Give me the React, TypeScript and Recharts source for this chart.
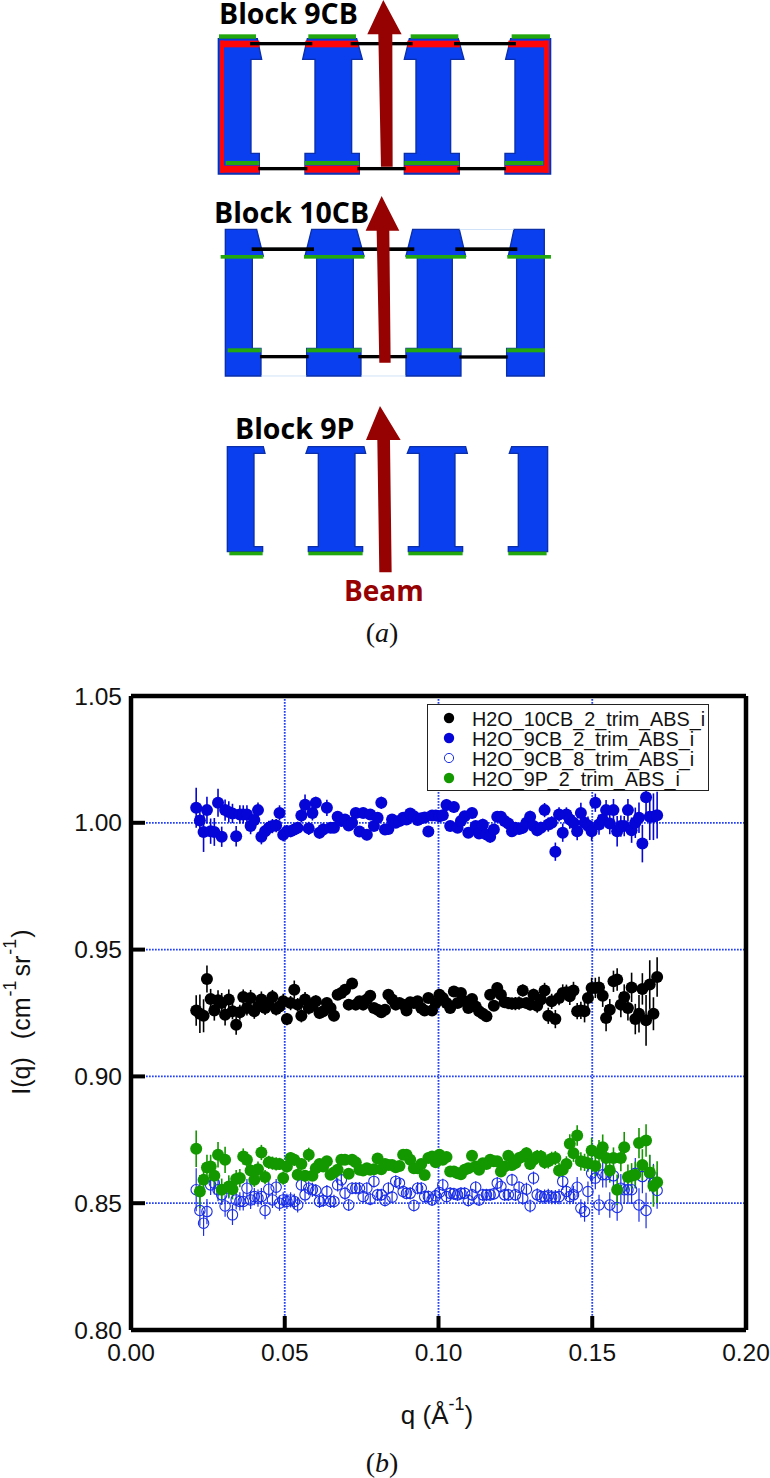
import React from "react";
import {
  ScatterChart,
  Scatter,
  XAxis,
  YAxis,
  CartesianGrid,
  ErrorBar,
  Legend,
} from "recharts";

const qValues = [
  0.0212, 0.0224, 0.0236, 0.0247, 0.0259, 0.0271, 0.0283, 0.0295, 0.0306, 0.0318,
  0.033, 0.0342, 0.0354, 0.0365, 0.0377, 0.0389, 0.0401, 0.0413, 0.0424, 0.0436,
  0.0448, 0.046, 0.0472, 0.0483, 0.0495, 0.0507, 0.0519, 0.0531, 0.0542, 0.0554,
  0.0566, 0.0578, 0.059, 0.0601, 0.0613, 0.0625, 0.0637, 0.0649, 0.066, 0.0672,
  0.0684, 0.0696, 0.0708, 0.0719, 0.0731, 0.0743, 0.0755, 0.0767, 0.0778, 0.079,
  0.0802, 0.0814, 0.0826, 0.0837, 0.0849, 0.0861, 0.0873, 0.0885, 0.0896, 0.0908,
  0.092, 0.0932, 0.0944, 0.0955, 0.0967, 0.0979, 0.0991, 0.1003, 0.1014, 0.1026,
  0.1038, 0.105, 0.1062, 0.1073, 0.1085, 0.1097, 0.1109, 0.1121, 0.1132, 0.1144,
  0.1156, 0.1168, 0.118, 0.1191, 0.1203, 0.1215, 0.1227, 0.1239, 0.125, 0.1262,
  0.1274, 0.1286, 0.1298, 0.1309, 0.1321, 0.1333, 0.1345, 0.1357, 0.1368, 0.138,
  0.1392, 0.1404, 0.1416, 0.1427, 0.1439, 0.1451, 0.1463, 0.1475, 0.1486, 0.1498,
  0.151, 0.1522, 0.1534, 0.1545, 0.1557, 0.1569, 0.1581, 0.1593, 0.1604, 0.1616,
  0.1628, 0.164, 0.1652, 0.1663, 0.1675, 0.1687, 0.1699, 0.1711,
];

const black10cb = [
  0.926, 0.9247, 0.9239, 0.9384, 0.9305, 0.926, 0.93, 0.9289, 0.9243, 0.9303,
  0.9257, 0.9204, 0.9253, 0.9313, 0.927, 0.9309, 0.9257, 0.9276, 0.9303, 0.927,
  0.9283, 0.9313, 0.9266, 0.9276, 0.9296, 0.9226, 0.9289, 0.9342, 0.9283, 0.9239,
  0.9303, 0.927, 0.9279, 0.9296, 0.925, 0.9257, 0.9289, 0.927, 0.9239, 0.9322,
  0.9329, 0.9342, 0.9283, 0.9366, 0.9283, 0.9296, 0.9283, 0.9303, 0.9318, 0.927,
  0.9263, 0.9253, 0.9263, 0.9322, 0.9303, 0.9283, 0.9289, 0.9283, 0.926, 0.9292,
  0.9289, 0.9296, 0.927, 0.926, 0.9309, 0.926, 0.9289, 0.9322, 0.9309, 0.9289,
  0.927, 0.9335, 0.9289, 0.9329, 0.9296, 0.927, 0.9305, 0.9276, 0.9257, 0.9247,
  0.9237, 0.9322, 0.9279, 0.9349, 0.9322, 0.9292, 0.9289, 0.9287, 0.9287, 0.9289,
  0.9339, 0.9289, 0.9283, 0.9322, 0.9279, 0.9303, 0.9339, 0.9239, 0.9296, 0.9226,
  0.9309, 0.9329, 0.9332, 0.9316, 0.9339, 0.9257, 0.926, 0.9257, 0.9309, 0.9349,
  0.9349, 0.9351, 0.9318, 0.923, 0.9263, 0.9375, 0.9382, 0.9283, 0.9313, 0.927,
  0.9351, 0.9226, 0.9247, 0.9345, 0.9221, 0.9362, 0.9247, 0.9392,
];
const black10cbErr = [
  0.006, 0.0076, 0.0065, 0.0053, 0.004, 0.004, 0.004, 0.004, 0.0042, 0.004,
  0.0032, 0.004, 0.003, 0.003, 0.003, 0.0032, 0.003, 0.003, 0.0032, 0.0028,
  0.0028, 0.0028, 0.0026, 0.0028, 0.003, 0.0024, 0.0028, 0.0036, 0.0026, 0.0026,
  0.003, 0.0026, 0.0026, 0.0024, 0.0024, 0.0024, 0.0022, 0.002, 0.0022, 0.002,
  0.002, 0.002, 0.002, 0.002, 0.002, 0.002, 0.002, 0.0018, 0.0018, 0.0018,
  0.0018, 0.0018, 0.0018, 0.0018, 0.0018, 0.0018, 0.0018, 0.0018, 0.0018, 0.0018,
  0.0018, 0.0018, 0.0018, 0.0018, 0.0018, 0.0018, 0.0018, 0.0018, 0.0018, 0.0018,
  0.0018, 0.0018, 0.0018, 0.0018, 0.0018, 0.0018, 0.0018, 0.0018, 0.0018, 0.0018,
  0.0018, 0.0018, 0.0018, 0.0022, 0.002, 0.002, 0.0024, 0.0024, 0.0026, 0.0026,
  0.0024, 0.002, 0.0022, 0.0024, 0.0028, 0.0024, 0.003, 0.0032, 0.003, 0.0036,
  0.0028, 0.0034, 0.003, 0.0034, 0.0034, 0.0032, 0.0034, 0.0044, 0.0036, 0.004,
  0.004, 0.0042, 0.0044, 0.0052, 0.0042, 0.0042, 0.0044, 0.005, 0.005, 0.005,
  0.0058, 0.006, 0.0074, 0.0062, 0.01, 0.0096, 0.0065, 0.0078,
];

const blue9cb2 = [
  1.0059, 1.0009, 0.9964, 1.005, 0.9967, 0.9964, 1.0079, 0.9945, 1.005, 1.0043,
  1.0037, 0.9947, 1.0033, 1.0033, 1.0033, 0.9987, 1.0011, 1.005, 0.9945, 0.9967,
  0.998, 0.9987, 0.9989, 1.0039, 0.9953, 0.9967, 0.9967, 0.9974, 0.998, 1.0029,
  1.0071, 0.9978, 1.0039, 1.0079, 0.9961, 0.9974, 1.0059, 0.998, 0.998, 1.0024,
  1.0007, 1.0013, 0.9989, 1.0, 1.0039, 0.9966, 1.0039, 0.9953, 1.0033, 0.9987,
  1.002, 1.0079, 0.9974, 0.9976, 1.0013, 1.0, 1.0007, 1.002, 1.0013, 1.0037,
  1.0026, 1.0011, 1.0018, 1.0021, 0.9966, 1.0029, 1.0029, 1.0026, 1.003, 1.007,
  0.9987, 1.0062, 0.998, 1.0007, 1.0026, 0.9961, 1.0039, 0.9987, 0.9958, 0.9992,
  0.9954, 0.9945, 0.9974, 1.0024, 1.0024, 1.0007, 0.9997, 0.9967, 0.998, 0.9976,
  0.998, 1.0, 1.0024, 0.9987, 0.9971, 0.998, 1.005, 0.9993, 1.0, 0.9886,
  1.0033, 0.9961, 1.0033, 1.0013, 1.0, 0.9967, 1.0039, 1.0, 0.9989, 0.9967,
  1.0079, 0.9993, 1.0013, 1.005, 0.9997, 1.005, 0.9967, 0.9987, 0.9987, 1.005,
  0.9971, 1.0, 1.002, 0.9918, 1.0101, 1.0024, 1.0024, 1.003,
];
const blue9cb2Err = [
  0.0079, 0.0055, 0.0079, 0.0053, 0.005, 0.0055, 0.0055, 0.004, 0.0042, 0.0042,
  0.0038, 0.004, 0.0036, 0.0036, 0.0036, 0.0032, 0.003, 0.003, 0.003, 0.0028,
  0.0028, 0.0028, 0.0026, 0.003, 0.0026, 0.0024, 0.0024, 0.0024, 0.0024, 0.0028,
  0.0041, 0.0026, 0.003, 0.0024, 0.0024, 0.0024, 0.0032, 0.002, 0.002, 0.0022,
  0.002, 0.002, 0.002, 0.0018, 0.002, 0.002, 0.002, 0.0022, 0.002, 0.0018,
  0.0018, 0.0024, 0.0018, 0.0018, 0.0018, 0.0018, 0.0018, 0.0018, 0.0018, 0.0018,
  0.0018, 0.0018, 0.0018, 0.0018, 0.0018, 0.002, 0.0018, 0.0018, 0.0018, 0.0024,
  0.002, 0.0022, 0.002, 0.002, 0.0018, 0.0018, 0.002, 0.002, 0.002, 0.0024,
  0.002, 0.0024, 0.002, 0.002, 0.0022, 0.002, 0.002, 0.002, 0.002, 0.002,
  0.0024, 0.0024, 0.0024, 0.0024, 0.0024, 0.0024, 0.0028, 0.0028, 0.0026, 0.0036,
  0.0028, 0.0036, 0.0028, 0.0036, 0.003, 0.0036, 0.004, 0.003, 0.0036, 0.0038,
  0.0036, 0.004, 0.0038, 0.004, 0.0042, 0.0044, 0.006, 0.0042, 0.004, 0.0044,
  0.005, 0.006, 0.006, 0.0074, 0.008, 0.0092, 0.0092, 0.0092,
];

const open9cb8 = [
  0.8553, 0.8471, 0.8421, 0.8467, 0.8572, 0.8579, 0.8553, 0.8533, 0.8489, 0.8559,
  0.8454, 0.8513, 0.8507, 0.8507, 0.8559, 0.8513, 0.8526, 0.852, 0.8526, 0.8471,
  0.8555, 0.8513, 0.8563, 0.85, 0.8513, 0.8507, 0.8513, 0.8507, 0.8493, 0.8572,
  0.8533, 0.8559, 0.8553, 0.855, 0.8507, 0.8511, 0.8546, 0.8507, 0.8507, 0.8572,
  0.8592, 0.8539, 0.8493, 0.8559, 0.8559, 0.8559, 0.8526, 0.8559, 0.8516, 0.8586,
  0.8533, 0.8533, 0.8511, 0.8559, 0.8524, 0.8586, 0.8579, 0.8546, 0.8539, 0.8539,
  0.8491, 0.8559, 0.8559, 0.8526, 0.8526, 0.8513, 0.8529, 0.8542, 0.8572, 0.8526,
  0.8539, 0.8537, 0.8533, 0.8539, 0.8539, 0.8511, 0.8533, 0.8563, 0.8513, 0.8533,
  0.8533, 0.8533, 0.8537, 0.8579, 0.8566, 0.8533, 0.8533, 0.8592, 0.8533, 0.8563,
  0.852, 0.8555, 0.8489, 0.8599, 0.8533, 0.8526, 0.8526, 0.8529, 0.8524, 0.8524,
  0.8526, 0.8586, 0.8546, 0.8526, 0.8533, 0.8563, 0.848, 0.8467, 0.8546, 0.8618,
  0.8599, 0.8493, 0.8612, 0.8612, 0.8493, 0.8608, 0.8483, 0.8559, 0.8553, 0.8553,
  0.8553, 0.8618, 0.8493, 0.8605, 0.8471, 0.8618, 0.8579, 0.855,
];
const open9cb8Err = [
  0.0085, 0.006, 0.005, 0.005, 0.004, 0.0045, 0.0045, 0.004, 0.0042, 0.004,
  0.004, 0.0038, 0.0036, 0.0036, 0.0036, 0.0036, 0.0034, 0.0034, 0.0034, 0.0034,
  0.0032, 0.0032, 0.0032, 0.003, 0.003, 0.003, 0.003, 0.003, 0.003, 0.0028,
  0.0028, 0.0028, 0.0028, 0.0026, 0.0026, 0.0026, 0.0026, 0.0026, 0.0026, 0.0026,
  0.0026, 0.0026, 0.0024, 0.0024, 0.0024, 0.0024, 0.0024, 0.0024, 0.0024, 0.0024,
  0.0024, 0.0024, 0.0024, 0.0024, 0.0024, 0.0024, 0.0024, 0.0024, 0.0024, 0.0024,
  0.0024, 0.0024, 0.0024, 0.0024, 0.0024, 0.0024, 0.0024, 0.0024, 0.0024, 0.0024,
  0.0024, 0.0024, 0.0024, 0.0024, 0.0024, 0.0024, 0.0024, 0.0024, 0.0024, 0.0024,
  0.0024, 0.0024, 0.0024, 0.0024, 0.0024, 0.0024, 0.0024, 0.0024, 0.0024, 0.0024,
  0.0026, 0.0026, 0.0026, 0.0026, 0.0026, 0.0026, 0.0028, 0.0028, 0.0028, 0.0028,
  0.003, 0.0034, 0.003, 0.003, 0.0036, 0.004, 0.0036, 0.004, 0.004, 0.0044,
  0.0044, 0.004, 0.005, 0.005, 0.005, 0.005, 0.0052, 0.0056, 0.0056, 0.0056,
  0.0056, 0.006, 0.0066, 0.0066, 0.007, 0.0072, 0.0076, 0.0072,
];

const green9p2 = [
  0.8715, 0.8546, 0.8592, 0.8641, 0.8645, 0.8608, 0.8691, 0.8553, 0.8671, 0.8566,
  0.8555, 0.8595, 0.8599, 0.8684, 0.8671, 0.8629, 0.8592, 0.8634, 0.87, 0.8603,
  0.8661, 0.8658, 0.8655, 0.8655, 0.8599, 0.8645, 0.8678, 0.8671, 0.8612, 0.8655,
  0.8608, 0.8691, 0.8608, 0.8638, 0.8655, 0.8645, 0.8665, 0.8612, 0.8621, 0.8632,
  0.8671, 0.8671, 0.8616, 0.8671, 0.8661, 0.8632, 0.8629, 0.8638, 0.8632, 0.8634,
  0.8676, 0.8634, 0.8655, 0.8651, 0.8651, 0.8642, 0.8647, 0.8691, 0.8691, 0.8671,
  0.8638, 0.8638, 0.8655, 0.8611, 0.8678, 0.8684, 0.8661, 0.8691, 0.8671, 0.8682,
  0.8625, 0.8625, 0.8618, 0.8614, 0.8632, 0.8638, 0.8687, 0.8645, 0.8632, 0.8658,
  0.8655, 0.8671, 0.8665, 0.8665, 0.8625, 0.8645, 0.8687, 0.8651, 0.8658, 0.8678,
  0.8684, 0.8697, 0.8655, 0.8671, 0.8684, 0.8684, 0.8661, 0.8665, 0.8675, 0.8678,
  0.8629, 0.8632, 0.8655, 0.8734, 0.8697, 0.8767, 0.8665, 0.8661, 0.8658, 0.8708,
  0.8647, 0.8697, 0.8721, 0.8678, 0.8629, 0.8678, 0.8553, 0.8678, 0.8721, 0.8603,
  0.8608, 0.8612, 0.8737, 0.8651, 0.8747, 0.8621, 0.8568, 0.8583,
];
const green9p2Err = [
  0.0072, 0.0065, 0.0055, 0.005, 0.0046, 0.004, 0.005, 0.0044, 0.0052, 0.0044,
  0.004, 0.0036, 0.0036, 0.0032, 0.0032, 0.0032, 0.0028, 0.003, 0.003, 0.0028,
  0.0026, 0.0026, 0.0026, 0.0024, 0.0026, 0.0024, 0.0024, 0.0024, 0.0024, 0.0022,
  0.0022, 0.0028, 0.002, 0.002, 0.002, 0.002, 0.002, 0.002, 0.002, 0.0018,
  0.0018, 0.0018, 0.0018, 0.0018, 0.0018, 0.0018, 0.0018, 0.0018, 0.0018, 0.0018,
  0.0018, 0.0018, 0.0018, 0.0018, 0.0018, 0.0018, 0.0018, 0.0018, 0.0018, 0.0018,
  0.0018, 0.0018, 0.0018, 0.0018, 0.0018, 0.0018, 0.0018, 0.0018, 0.0018, 0.0018,
  0.0018, 0.0018, 0.0018, 0.0018, 0.0018, 0.0018, 0.0018, 0.0018, 0.0018, 0.0018,
  0.0018, 0.0018, 0.0018, 0.002, 0.002, 0.002, 0.002, 0.002, 0.0022, 0.0022,
  0.0022, 0.0024, 0.0024, 0.0024, 0.0026, 0.0026, 0.0026, 0.0028, 0.0028, 0.0028,
  0.003, 0.003, 0.003, 0.0038, 0.0034, 0.004, 0.0036, 0.0034, 0.0034, 0.005,
  0.004, 0.0052, 0.005, 0.0042, 0.0048, 0.0042, 0.006, 0.0052, 0.006, 0.005,
  0.005, 0.0052, 0.006, 0.0062, 0.0064, 0.007, 0.0082, 0.0082,
];

const xTicks = [0, 0.05, 0.1, 0.15, 0.2];
const yTicks = [0.8, 0.85, 0.9, 0.95, 1.0, 1.05];

const toRows = (values: number[], errs: number[]) =>
  qValues.map((q, i) => ({ q, value: values[i], err: errs[i] }));

const series = [
  { name: "H2O_10CB_2_trim_ABS_i", rows: toRows(black10cb, black10cbErr), color: "#000000", open: false },
  { name: "H2O_9CB_2_trim_ABS_i", rows: toRows(blue9cb2, blue9cb2Err), color: "#0505d8", open: false },
  { name: "H2O_9CB_8_trim_ABS_i", rows: toRows(open9cb8, open9cb8Err), color: "#1a2ee6", open: true },
  { name: "H2O_9P_2_trim_ABS_i", rows: toRows(green9p2, green9p2Err), color: "#149800", open: false },
];

const BLUE = "#0a3ff0";
const BLUE_EDGE = "#0a2fa8";
const GREEN = "#22a80e";
const RED = "#ff0606";
const DARK_RED = "#960202";

type Rect = [number, number, number, number];

const box = ([x1, y1, x2, y2]: Rect, fill: string, i: number) => (
  <rect key={`${fill}-${i}`} x={x1} y={y1} width={x2 - x1} height={y2 - y1} fill={fill} />
);

// schematic coordinates are in 3x crop units, each group is scaled down
const block9cbPieces = [
  "55,116 172,116 185,178 153,178 153,460 178,460 178,522 55,522",
  "322,116 470,116 487,178 455,178 455,460 478,460 478,522 315,522 315,460 345,460 345,178 308,178",
  "628,116 775,116 792,178 752,178 752,460 778,460 778,522 613,522 613,460 648,460 648,178 613,178",
  "932,116 1052,116 1052,522 915,522 915,460 945,460 945,178 917,178",
];
const block9cbRed: Rect[] = [
  [60, 122, 178, 142], [60, 122, 72, 518], [60, 497, 178, 518],
  [316, 122, 475, 142], [315, 497, 478, 518],
  [622, 122, 780, 142], [613, 497, 778, 518],
  [925, 122, 1047, 142], [1032, 122, 1047, 518], [915, 497, 1047, 518],
];
const block9cbGreen: Rect[] = [
  [57, 103, 168, 116], [77, 483, 178, 495],
  [325, 103, 468, 116], [315, 483, 478, 495],
  [632, 103, 775, 116], [613, 483, 778, 495],
  [935, 103, 1050, 116], [915, 483, 1030, 495],
];
const block9cbBlack: Rect[] = [
  [150, 126, 337, 136], [452, 126, 638, 136], [762, 126, 948, 136],
  [175, 501, 322, 511], [472, 501, 617, 511], [772, 501, 918, 511],
];

const block10cbPieces = [
  "76,118 170,118 190,198 157,198 157,475 183,475 183,558 76,558",
  "335,118 470,118 492,198 460,198 460,475 483,475 483,558 320,558 320,475 350,475 350,198 315,198",
  "638,118 778,118 797,198 757,198 757,475 783,475 783,558 618,558 618,475 652,475 652,198 618,198",
  "942,118 1033,118 1033,558 920,558 920,475 950,475 950,198 925,198",
];
const block10cbGreen: Rect[] = [
  [62, 195, 190, 206], [312, 195, 493, 206], [617, 195, 798, 206], [922, 195, 1053, 206],
  [83, 475, 183, 487], [320, 475, 483, 487], [618, 475, 783, 487], [920, 475, 1035, 487],
];
const block10cbBlack: Rect[] = [
  [155, 172, 342, 183], [457, 172, 643, 183], [766, 172, 952, 183],
  [180, 495, 326, 505], [475, 495, 621, 505], [778, 496, 923, 506],
];
const block10cbFaint: Rect[] = [
  [183, 557, 320, 559], [483, 557, 618, 559], [778, 117, 942, 119],
];

const block9pPieces = [
  "82,170 190,170 195,190 162,190 162,470 188,470 188,485 82,485",
  "325,170 492,170 497,190 465,190 465,470 488,470 488,485 325,485 325,470 355,470 355,190 318,190",
  "630,170 797,170 802,190 765,190 765,470 788,470 788,485 625,485 625,470 658,470 658,190 622,190",
  "935,170 1043,170 1043,485 925,485 925,470 955,470 955,190 928,190",
];
const block9pGreen: Rect[] = [
  [88, 485, 188, 496], [325, 485, 488, 496], [625, 485, 788, 496], [925, 485, 1040, 496],
];

const labelFont = "'Open Sans', 'Noto Sans', sans-serif";

const Pieces = ({ points }: { points: string[] }) => (
  <>
    {points.map((p) => (
      <polygon key={p} points={p} fill={BLUE} stroke={BLUE_EDGE} strokeWidth={4} strokeLinejoin="miter" />
    ))}
  </>
);

const Schematic = () => (
  <svg width={770} height={660} style={{ position: "absolute", left: 0, top: 0 }}>
    <g transform="translate(200,0) scale(0.3333)">
      <Pieces points={block9cbPieces} />
      {block9cbRed.map((r, i) => box(r, RED, i))}
      {block9cbGreen.map((r, i) => box(r, GREEN, i))}
      {block9cbBlack.map((r, i) => box(r, "#000", i))}
      <polygon points="550,0 502,103 535,103 543,500 578,500 577,103 605,103" fill={DARK_RED} />
    </g>
    <text x={219} y={24} fontFamily={labelFont} fontWeight={700} fontSize={28.5} fill="#000">Block 9CB</text>

    <g transform="translate(200,190) scale(0.3333)">
      <Pieces points={block10cbPieces} />
      {block10cbFaint.map((r, i) => box(r, "#b8d4f4", i))}
      {block10cbGreen.map((r, i) => box(r, GREEN, i))}
      {block10cbBlack.map((r, i) => box(r, "#000", i))}
      <polygon points="545,18 497,122 530,122 538,518 572,518 568,122 598,122" fill={DARK_RED} />
    </g>
    <text x={214} y={223} fontFamily={labelFont} fontWeight={700} fontSize={28.5} fill="#000">Block 10CB</text>

    <g transform="translate(200,390) scale(0.3333)">
      <Pieces points={block9pPieces} />
      {block9pGreen.map((r, i) => box(r, GREEN, i))}
      <polygon points="540,48 498,150 532,150 538,547 575,547 570,150 602,150" fill={DARK_RED} />
    </g>
    <text x={235} y={439} fontFamily={labelFont} fontWeight={700} fontSize={28.5} fill="#000">Block 9P</text>
    <text x={344} y={601} fontFamily={labelFont} fontWeight={700} fontSize={28} fill={DARK_RED}>Beam</text>

    <text x={382} y={642} textAnchor="middle" fontFamily="'Liberation Serif', serif" fontSize={28} fill="#111">
      (<tspan fontStyle="italic">a</tspan>)
    </text>
  </svg>
);

const plotFont = "'Liberation Sans', Arial, sans-serif";

const renderMarker = (color: string, open: boolean) => (props: any) => (
  <circle
    cx={props.cx}
    cy={props.cy}
    r={open ? 5.2 : 6}
    fill={open ? "none" : color}
    stroke={open ? color : "none"}
    strokeWidth={open ? 1.1 : 0}
  />
);

const LegendBox = () => (
  <div
    style={{
      width: 280,
      height: 85,
      border: "1.5px solid #222",
      background: "#fff",
      fontFamily: plotFont,
      fontSize: 19.8,
      lineHeight: "20px",
      color: "#111",
      position: "relative",
    }}
  >
    {series.map((s, i) => (
      <div key={s.name} style={{ position: "absolute", left: 44, top: 3.5 + i * 20, whiteSpace: "nowrap" }}>
        {s.name}
      </div>
    ))}
    <svg width={44} height={85} style={{ position: "absolute", left: 0, top: 0 }}>
      {series.map((s, i) => (
        <circle
          key={s.name}
          cx={21}
          cy={13 + i * 20}
          r={s.open ? 4.6 : 5.2}
          fill={s.open ? "#fff" : s.color}
          stroke={s.open ? s.color : "none"}
          strokeWidth={1}
        />
      ))}
    </svg>
  </div>
);

const XTitle = () => (
  <text x={437} y={1424} textAnchor="middle" fontFamily={plotFont} fontSize={26} fill="#111">
    q (Å<tspan dy={-14} fontSize={18}>-1</tspan>
    <tspan dy={14}>)</tspan>
  </text>
);

const YTitle = () => (
  <text
    x={0}
    y={0}
    transform="translate(30,1012) rotate(-90)"
    textAnchor="middle"
    fontFamily={plotFont}
    fontSize={25}
    fill="#111"
  >
    I(q)
    <tspan dx={18}>(cm</tspan>
    <tspan dy={-14} dx={1} fontSize={18}>-1</tspan>
    <tspan dy={14} dx={4}>sr</tspan>
    <tspan dy={-14} dx={1} fontSize={18}>-1</tspan>
    <tspan dy={14} dx={1}>)</tspan>
  </text>
);

const App = () => {
  const frame = { stroke: "#000", strokeWidth: 4.5 };
  const tickMark = { stroke: "#000", strokeWidth: 4 };
  const tickText = { fontFamily: plotFont, fontSize: 24.5, fill: "#111" };

  return (
    <div style={{ position: "absolute", left: 0, top: 0, width: 770, height: 1478, background: "#fff" }}>
      <Schematic />
      <ScatterChart
        width={770}
        height={1478}
        margin={{ top: 695, right: 23, bottom: 118, left: 71 }}
      >
        <CartesianGrid stroke="#2340f5" strokeWidth={1.8} strokeDasharray="1.7 1.3" />
        <XAxis
          type="number"
          dataKey="q"
          domain={[0, 0.2]}
          ticks={xTicks}
          height={30}
          axisLine={frame}
          tickLine={tickMark}
          tickSize={-14}
          tickMargin={28}
          tick={tickText}
          tickFormatter={(v: number) => v.toFixed(2)}
          interval={0}
          label={{ content: () => <XTitle /> }}
        />
        <XAxis
          xAxisId="top"
          orientation="top"
          type="number"
          dataKey="q"
          domain={[0, 0.2]}
          ticks={xTicks}
          height={1}
          axisLine={frame}
          tickLine={tickMark}
          tickSize={-14}
          tick={false}
          interval={0}
        />
        <YAxis
          type="number"
          dataKey="value"
          domain={[0.8, 1.05]}
          ticks={yTicks}
          width={60}
          axisLine={frame}
          tickLine={tickMark}
          tickSize={-14}
          tickMargin={23}
          tick={tickText}
          tickFormatter={(v: number) => v.toFixed(2)}
          interval={0}
          label={{ content: () => <YTitle /> }}
        />
        <YAxis
          yAxisId="right"
          orientation="right"
          type="number"
          dataKey="value"
          domain={[0.8, 1.05]}
          ticks={yTicks}
          width={1}
          axisLine={frame}
          tickLine={tickMark}
          tickSize={-14}
          tick={false}
          interval={0}
        />
        <Legend
          layout="vertical"
          align="center"
          verticalAlign="middle"
          wrapperStyle={{ position: "absolute", left: 427, top: 704, width: 283, height: 88 }}
          content={() => <LegendBox />}
        />
        {series.map((s) => (
          <Scatter
            key={s.name}
            name={s.name}
            data={s.rows}
            isAnimationActive={false}
            shape={renderMarker(s.color, s.open)}
          >
            <ErrorBar
              dataKey="err"
              direction="y"
              width={0}
              stroke={s.color}
              strokeWidth={s.open ? 1.2 : 1.6}
              isAnimationActive={false}
            />
          </Scatter>
        ))}
      </ScatterChart>
      <svg width={770} height={40} style={{ position: "absolute", left: 0, top: 1438 }}>
        <text x={382} y={33.5} textAnchor="middle" fontFamily="'Liberation Serif', serif" fontSize={28} fill="#111">
          (<tspan fontStyle="italic">b</tspan>)
        </text>
      </svg>
    </div>
  );
};

export default App;
